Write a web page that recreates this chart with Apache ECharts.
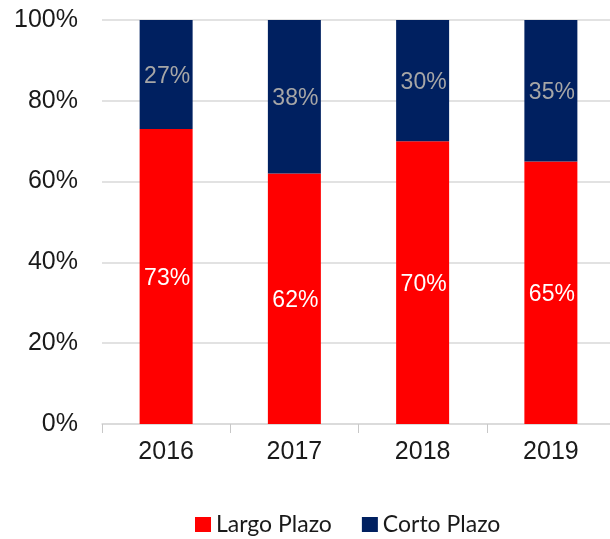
<!DOCTYPE html>
<html>
<head>
<meta charset="utf-8">
<script src="https://cdn.jsdelivr.net/npm/echarts@6/dist/echarts.min.js"></script>
<style>
  html, body { margin: 0; padding: 0; background: #ffffff; overflow: hidden; }
  #chart { width: 625px; height: 539px; }
</style>
</head>
<body>
<div id="chart"></div>
<script>
// Debt maturity split per year (percent of total)
const years = ['2016', '2017', '2018', '2019'];
const largoPlazo = [73, 62, 70, 65];
const cortoPlazo = [27, 38, 30, 35];
const yTicks = { min: 0, max: 100, interval: 20 };

const chart = echarts.init(document.getElementById('chart'), null, { renderer: 'canvas' });

const labelFont = 'Liberation Sans, Arial, sans-serif';

chart.setOption({
  animation: false,
  backgroundColor: '#ffffff',
  // plot area runs a little past the right edge of the visible page
  grid: { left: 102, top: 20, width: 513, height: 404 },
  legend: {
    left: 190,
    top: 508,
    icon: 'rect',
    itemWidth: 16,
    itemHeight: 15,
    itemGap: 30,
    textStyle: { fontFamily: 'Lato, "Open Sans", sans-serif', fontSize: 23, color: '#1a1a1a' },
    data: ['Largo Plazo', 'Corto Plazo']
  },
  xAxis: {
    type: 'category',
    data: years,
    axisLine: { lineStyle: { color: '#d9d9d9', width: 1.5 } },
    axisTick: { show: true, length: 9, lineStyle: { color: '#c8c8c8' } },
    axisLabel: { fontFamily: labelFont, fontSize: 25, color: '#1a1a1a', margin: 16 }
  },
  yAxis: {
    type: 'value',
    min: yTicks.min,
    max: yTicks.max,
    interval: yTicks.interval,
    axisLine: { show: false },
    axisTick: { show: false },
    axisLabel: { fontFamily: labelFont, fontSize: 25, color: '#1a1a1a', margin: 24, formatter: '{value}%' },
    splitLine: { lineStyle: { color: '#d9d9d9', width: 1.5 } }
  },
  series: [
    {
      name: 'Largo Plazo',
      type: 'bar',
      stack: 'total',
      barWidth: 53,
      data: largoPlazo,
      itemStyle: { color: '#ff0000' },
      label: {
        show: true,
        position: 'inside',
        formatter: '{c}%',
        fontFamily: labelFont,
        fontSize: 23,
        color: '#ffffff',
        offset: [1, 2]
      }
    },
    {
      name: 'Corto Plazo',
      type: 'bar',
      stack: 'total',
      barWidth: 53,
      data: cortoPlazo,
      itemStyle: { color: '#002060' },
      label: {
        show: true,
        position: 'inside',
        formatter: '{c}%',
        fontFamily: labelFont,
        fontSize: 23,
        color: '#a6a6a6',
        offset: [1, 2]
      }
    }
  ]
});
</script>
</body>
</html>
